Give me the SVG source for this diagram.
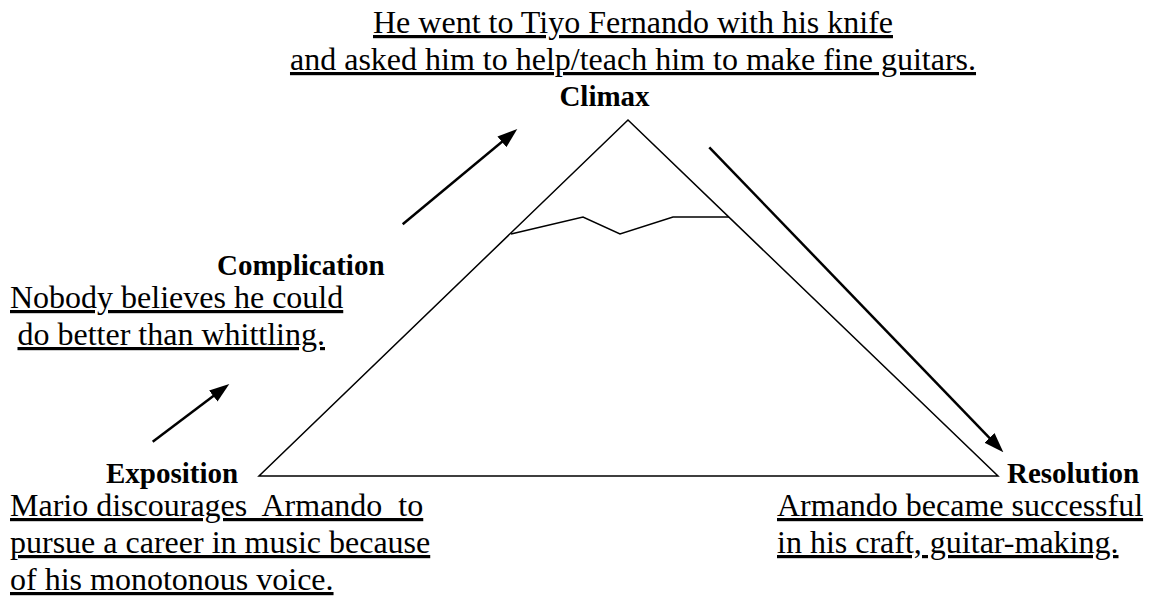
<svg xmlns="http://www.w3.org/2000/svg" width="1149" height="596" viewBox="0 0 1149 596">
  <style>
    text { font-family: "Liberation Serif", "Times New Roman", serif; fill: #000; }
    .head { font-size: 29px; font-weight: bold; }
    .desc { font-size: 32px; text-decoration: underline; white-space: pre; }
    .shape { fill: none; stroke: #000; stroke-width: 1.5; stroke-linejoin: miter; }
    .arrow { fill: none; stroke: #000; stroke-width: 2.5; marker-end: url(#head); }
  </style>
  <defs>
    <marker id="head" viewBox="0 0 20 14" refX="10" refY="7" markerWidth="20" markerHeight="14" markerUnits="userSpaceOnUse" orient="auto">
      <path d="M0,0 L20,7 L0,14 z" fill="#000"/>
    </marker>
  </defs>
  <rect width="1149" height="596" fill="#fff"/>

  <!-- plot mountain -->
  <g id="mountain">
    <polygon class="shape" points="628,120 998,476 259,476"/>
    <polyline class="shape" points="511,234 583,217 620,234 673,217 729,217"/>
  </g>

  <!-- rising and falling action arrows -->
  <g id="connectors">
    <line class="arrow" x1="152.7" y1="441.7" x2="221.3" y2="390.0"/>
    <line class="arrow" x1="402.7" y1="224.3" x2="509.6" y2="135.4"/>
    <line class="arrow" x1="709.3" y1="147.3" x2="996.4" y2="445.1"/>
  </g>

  <g id="climax">
    <text class="desc" x="633" y="33" text-anchor="middle">He went to Tiyo Fernando with his knife</text>
    <text class="desc" x="633" y="70" text-anchor="middle">and asked him to help/teach him to make fine guitars.</text>
    <text class="head" x="604.5" y="106" text-anchor="middle">Climax</text>
  </g>

  <g id="complication">
    <text class="head" x="217" y="275">Complication</text>
    <text class="desc" x="10" y="308">Nobody believes he could</text>
    <text class="desc" x="17.5" y="345">do better than whittling.</text>
  </g>

  <g id="exposition">
    <text class="head" x="106" y="483">Exposition</text>
    <text class="desc" x="10" y="516">Mario discourages  Armando  to</text>
    <text class="desc" x="10" y="553">pursue a career in music because</text>
    <text class="desc" x="10" y="590">of his monotonous voice.</text>
  </g>

  <g id="resolution">
    <text class="head" x="1007" y="483">Resolution</text>
    <text class="desc" x="777" y="516">Armando became successful</text>
    <text class="desc" x="777" y="553">in his craft, guitar-making.</text>
  </g>
</svg>
